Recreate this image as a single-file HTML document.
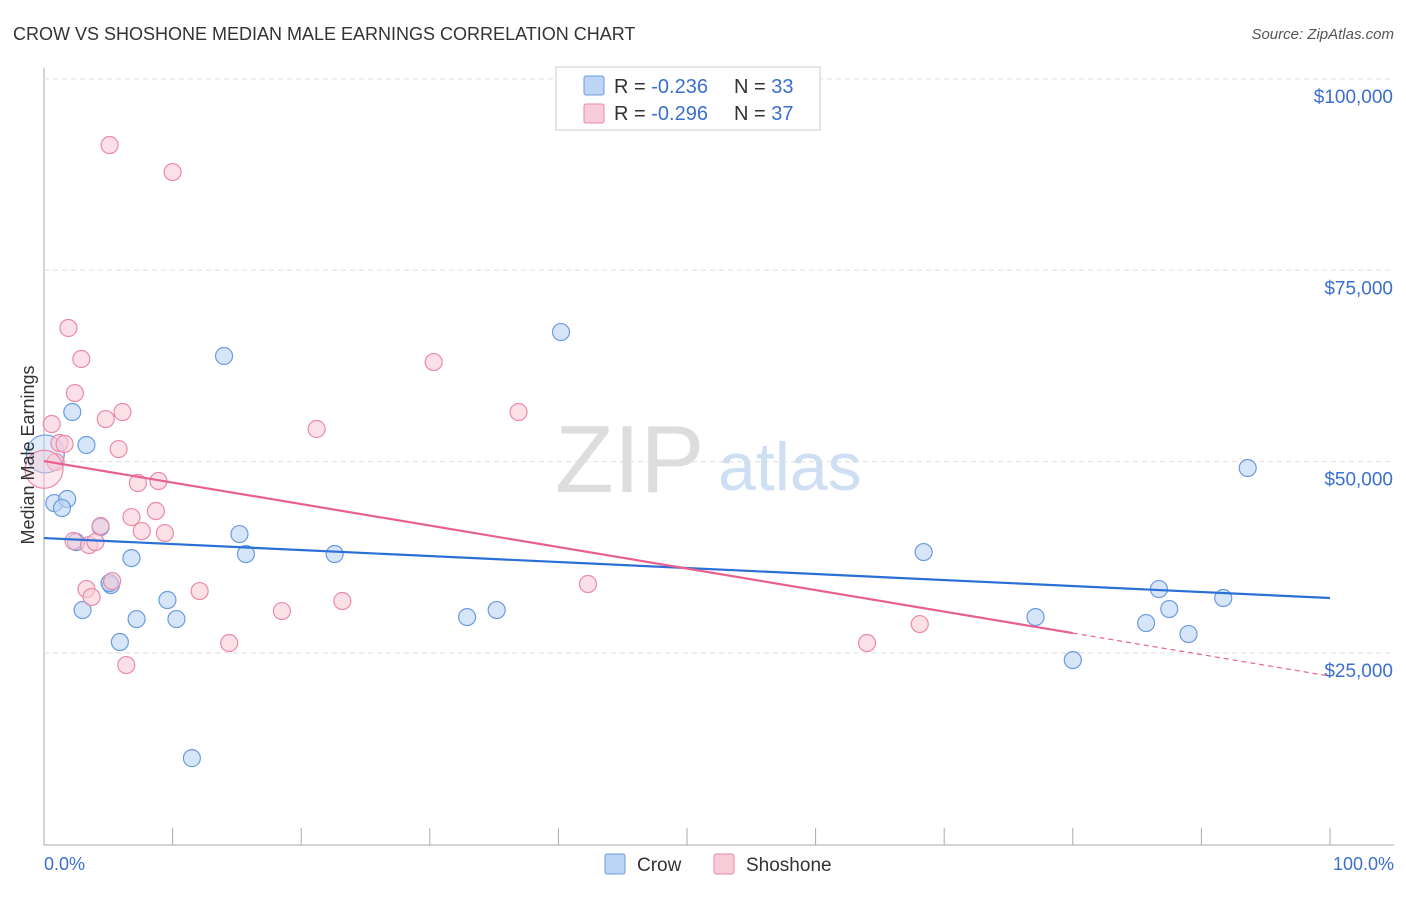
<!DOCTYPE html>
<html><head><meta charset="utf-8"><style>
body{margin:0;background:#fff;font-family:"Liberation Sans",sans-serif;}
svg text{font-family:"Liberation Sans",sans-serif;}
</style></head><body>
<svg id="c" width="1406" height="892" xmlns="http://www.w3.org/2000/svg">
<text x="13" y="40" font-size="18" fill="#333">CROW VS SHOSHONE MEDIAN MALE EARNINGS CORRELATION CHART</text>
<text x="1394" y="39" font-size="15" fill="#555" text-anchor="end" font-style="italic">Source: ZipAtlas.com</text>
<text x="555" y="492" font-size="96" fill="#ddd" font-family="Liberation Serif">ZIP</text>
<text x="718" y="490" font-size="68" fill="#cfdff3">atlas</text>
<g id="grid"></g>
<g id="marks"></g>
<text transform="translate(34,455) rotate(-90)" font-size="18" fill="#333" text-anchor="middle">Median Male Earnings</text>
<text x="44" y="870" font-size="18" fill="#3a6fd0">0.0%</text>
<text x="1394" y="870" font-size="18" fill="#3a6fd0" text-anchor="end">100.0%</text>
<g>
<rect x="556" y="67" width="264" height="63" fill="#fff" stroke="#ccc"/>
<rect x="584" y="76" width="20" height="19" fill="#bcd4f5" stroke="#6a9be0" rx="2"/>
<rect x="584" y="104" width="20" height="19" fill="#f9ccd9" stroke="#eb8aa8" rx="2"/>
<text x="614" y="93" font-size="20" fill="#333">R = <tspan fill="#3a6fd0">-0.236</tspan></text>
<text x="734" y="93" font-size="20" fill="#333">N = <tspan fill="#3a6fd0">33</tspan></text>
<text x="614" y="120" font-size="20" fill="#333">R = <tspan fill="#3a6fd0">-0.296</tspan></text>
<text x="734" y="120" font-size="20" fill="#333">N = <tspan fill="#3a6fd0">37</tspan></text>
</g>
<g>
<rect x="605" y="854" width="20" height="20" fill="#bcd4f5" stroke="#6a9be0" rx="2"/>
<text x="637" y="871" font-size="19" fill="#333">Crow</text>
<rect x="714" y="854" width="20" height="20" fill="#f9ccd9" stroke="#eb8aa8" rx="2"/>
<text x="746" y="871" font-size="19" fill="#333">Shoshone</text>
</g>
</svg>
<script>
const yTicks=[25000,50000,75000,100000];
const yTickLabels=["$25,000","$50,000","$75,000","$100,000"];
const xTicks=[0,10,20,30,40,50,60,70,80,90,100];
const crowX=[2.2,3.3,0.8,1.8,1.4,4.4,2.5,6.8,5.2,5.1,3.0,7.2,5.9,9.6,10.3,11.5,14.0,15.2,15.7,22.6,32.9,35.2,40.2,68.4,77.1,80.0,85.7,86.7,87.5,89.0,91.7,93.6,0.1];
const crowY=[56480,52170,44580,45110,43930,41450,39490,37390,33870,34130,30600,29420,26420,31910,29420,11250,63800,40530,37920,37920,29680,30600,66930,38180,29680,24060,28900,33340,30730,27460,32170,49160,51000];
const shoX=[5.1,10.0,1.9,2.9,2.4,0.6,4.8,6.1,1.2,1.6,5.8,0.9,7.3,8.9,6.8,8.7,7.6,9.4,2.3,3.5,4.0,4.4,3.3,3.7,5.3,12.1,6.4,14.4,18.5,23.2,21.2,30.3,36.9,42.3,64.0,68.1,0.0];
const shoY=[91370,87840,67460,63410,58960,54910,55560,56480,52430,52300,51640,49940,47200,47460,42750,43540,40920,40660,39620,39090,39490,41580,33340,32300,34390,33080,23410,26290,30470,31780,54260,63010,56480,34000,26290,28770,49000];
const crowTrend=[40010,32170];
const shoTrend=[50070,21970];
const shoSolidEnd=80;
const X=p=>44+p*12.86;
const Y=v=>79+(100000-v)/25000*191.3;
const NS="http://www.w3.org/2000/svg";
function mk(t,a,parent){const e=document.createElementNS(NS,t);for(const k in a)e.setAttribute(k,a[k]);parent.appendChild(e);return e;}
const g=document.getElementById('grid'),m=document.getElementById('marks');
mk('line',{x1:44,y1:68,x2:44,y2:845,stroke:'#aaa'},g);
mk('line',{x1:44,y1:845,x2:1394,y2:845,stroke:'#aaa'},g);
yTicks.forEach((t,i)=>{
 const l=mk('line',{x1:44,y1:Y(t),x2:1394,y2:Y(t),stroke:'#ddd','stroke-dasharray':'5,4'},g);
 
 
 const tx=mk('text',{x:1393,y:Y(t)+24,'font-size':19,fill:'#3a6fd0','text-anchor':'end'},g);
 tx.textContent=yTickLabels[i];
 
 
});
xTicks.forEach(t=>{
 const l=mk('line',{x1:X(t),y1:828,x2:X(t),y2:845,stroke:'#aaa'},g);
 
 
});
function pts(xs,ys,fill,stroke,name){
 xs.forEach((x,i)=>{
  const big=(i===xs.length-1);
  const c=mk('circle',{cx:X(x),cy:Y(ys[i]),r:big?19:8.5,fill:fill,'fill-opacity':big?0.45:0.6,stroke:stroke,'stroke-width':1.2},m);
  
  
 });
}
pts(crowX,crowY,'#bcd4f5','#6a9be0','crow-point');
pts(shoX,shoY,'#f9ccd9','#eb8aa8','shoshone-point');
const cl=mk('line',{x1:X(0),y1:Y(crowTrend[0]),x2:X(100),y2:Y(crowTrend[1]),stroke:'#2a6fd6','stroke-width':2.2},m);


const sv=v=>shoTrend[0]+(shoTrend[1]-shoTrend[0])*v/100;
const sl=mk('line',{x1:X(0),y1:Y(shoTrend[0]),x2:X(shoSolidEnd),y2:Y(sv(shoSolidEnd)),stroke:'#e8608e','stroke-width':2.2},m);


const sd=mk('line',{x1:X(shoSolidEnd),y1:Y(sv(shoSolidEnd)),x2:X(100),y2:Y(shoTrend[1]),stroke:'#e8608e','stroke-width':1.2,'stroke-dasharray':'5,4'},m);


</script>
</body></html>
